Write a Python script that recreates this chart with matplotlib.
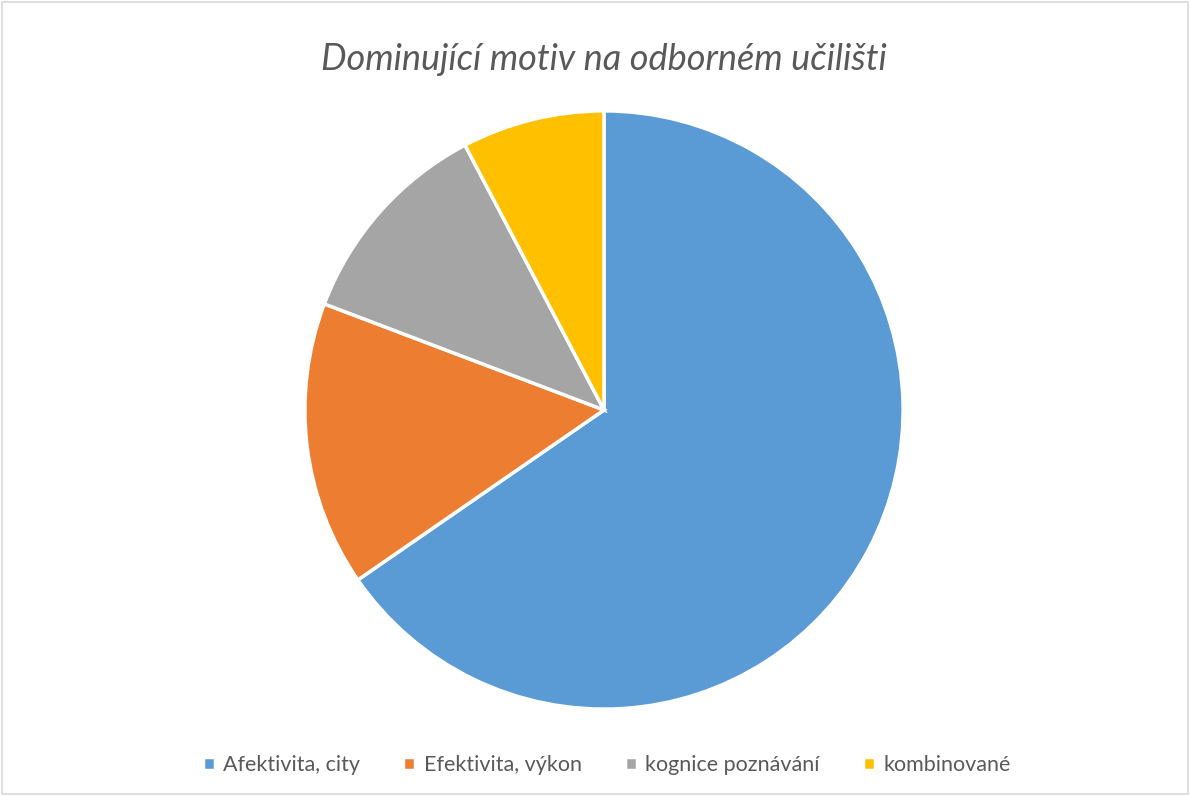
import matplotlib.pyplot as plt
from matplotlib.patches import Rectangle

# Data
categories = ['Afektivita, city', 'Efektivita, výkon', 'kognice poznávání', 'kombinované']
values = [17, 4, 3, 2]
colors = ['#5B9BD5', '#ED7D31', '#A5A5A5', '#FFC000']

plt.rcParams['font.family'] = ['Lato', 'DejaVu Sans']

fig = plt.figure(figsize=(11.9, 7.96), dpi=100)
# pie centre ~ (604, 410) px, radius ~ 299 px
ax = fig.add_axes([(604 - 300) / 1190, (386 - 300) / 796, 600 / 1190, 600 / 796])

wedges, _ = ax.pie(values, colors=colors, startangle=90, counterclock=False,
                   wedgeprops=dict(edgecolor='white', linewidth=2.5))
ax.set_xlim(-1.003, 1.003)
ax.set_ylim(-1.003, 1.003)
ax.set_aspect('equal')

# Title
fig.text(0.5076, 0.925, 'Dominující motiv na odborném učilišti', ha='center', va='center',
         fontsize=26, style='italic', color='#595959')

# Legend
leg = fig.legend(wedges, categories, loc='center', bbox_to_anchor=(0.51, 0.039), ncol=4,
                 frameon=False, fontsize=15.5, handlelength=0.55, handleheight=0.55,
                 handletextpad=0.4, columnspacing=2.0, labelcolor='#595959')

# Border round the chart area
fig.patches.append(Rectangle((0.002, 0.002), 0.996, 0.996, transform=fig.transFigure,
                             fill=False, edgecolor='#D9D9D9', linewidth=1.2))

plt.savefig('out.png', dpi=100)
